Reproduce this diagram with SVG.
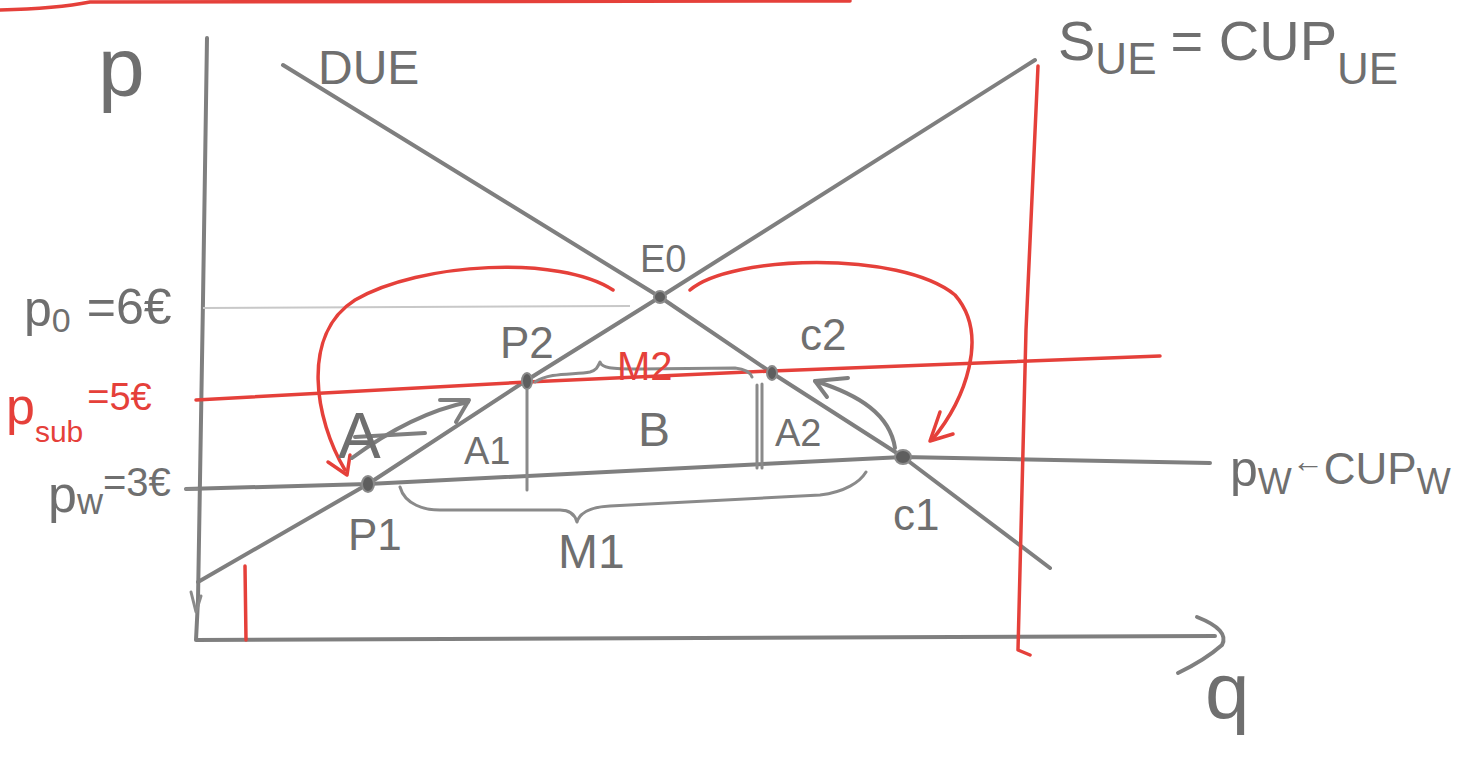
<svg xmlns="http://www.w3.org/2000/svg" width="1459" height="760" viewBox="0 0 1459 760">
<style>
.g{fill:none;stroke:#7f7f7f;stroke-width:4;stroke-linecap:round;stroke-linejoin:round}
.gt{fill:none;stroke:#8a8a8a;stroke-width:3;stroke-linecap:round;stroke-linejoin:round}
.gf{fill:none;stroke:#c8c8c8;stroke-width:2}
.r{fill:none;stroke:#e5403a;stroke-width:3.5;stroke-linecap:round;stroke-linejoin:round}
.t{font-family:"Liberation Sans",Arial,sans-serif;fill:#6f6f6f}
.tr{font-family:"Liberation Sans",Arial,sans-serif;fill:#e5403a}
.dot{fill:#5e5e5e;stroke:#8a8a8a;stroke-width:2}
</style>
<rect width="1459" height="760" fill="#ffffff"/>
<g id="connectors">
  <path class="r" d="M0,10 C40,9 70,6 90,2 L850,1"/>
  <path class="g" d="M207,38 L203,300 L198,600 L196,640 L1215,636"/>
  <path class="g" d="M1197,617 Q1230,630 1222,645 Q1205,660 1178,673"/>
  <path class="gt" d="M191,592 L196,612 L201,596"/>
  <path class="gf" d="M203,308 L630,306"/>
  <path class="g" d="M198,582 L368,484 L527,380 L660,297 L1035,60"/>
  <path class="g" d="M283,65 L660,297 L772,373 L903,457 L1050,568"/>
  <path class="g" d="M186,489 L368,484 L903,457 L1210,463"/>
  <path class="r" d="M196,400 L527,382 L772,371 L1160,356"/>
  <path class="gt" d="M527,382 L527,490"/>
  <path class="gt" d="M757,385 L757,468"/>
  <path class="gt" d="M762,384 L762,468"/>
  <path class="r" d="M245,566 L246,640"/>
  <path class="r" d="M1038,66 L1026,330 L1018,650 L1030,655"/>
  <path class="r" d="M613,290 C560,255 420,262 355,300 C300,335 315,420 345,470"/>
  <path class="r" d="M328,462 L347,475 L350,455"/>
  <path class="r" d="M690,290 C730,255 900,250 955,295 C990,335 965,400 932,440"/>
  <path class="r" d="M940,412 L930,441 L953,434"/>
  <path class="g" d="M352,458 C390,430 430,410 468,402"/>
  <path class="g" d="M440,400 L469,400 L456,422"/>
  <path class="g" d="M895,448 C890,415 860,395 815,381"/>
  <path class="g" d="M815,381 L848,378 M815,381 L827,397"/>
  <path class="g" d="M355,437 L425,433"/>
  <path class="gt" d="M400,487 C405,505 425,510 440,510 L560,510 C570,510 575,515 577,522 C580,512 590,507 610,506 L820,495 C845,492 860,482 866,472"/>
  <path class="gt" d="M535,382 C550,372 575,375 590,372 C597,370 598,366 600,362 C602,368 610,369 640,369 L735,368 C745,369 750,372 752,377"/>
  <path class="gt" d="M186,489 L197,489"/>
</g>
<g id="P1"><ellipse class="dot" cx="368" cy="484" rx="6" ry="8"/><text class="t" x="348" y="550" font-size="44">P1</text></g>
<g id="P2"><ellipse class="dot" cx="527" cy="381" rx="5" ry="8"/><text class="t" x="500" y="358" font-size="44">P2</text></g>
<g id="E0"><ellipse class="dot" cx="660" cy="297" rx="6" ry="6"/><text class="t" x="640" y="272" font-size="38">E0</text></g>
<g id="C2"><ellipse class="dot" cx="772" cy="373" rx="5" ry="7"/><text class="t" x="800" y="350" font-size="44">c2</text></g>
<g id="C1"><ellipse class="dot" cx="903" cy="457" rx="8" ry="7"/><text class="t" x="893" y="530" font-size="44">c1</text></g>
<g id="labels">
  <text class="t" x="98" y="96" font-size="84">p</text>
  <text class="t" x="318" y="84" font-size="48">DUE</text>
  <text class="t" x="1058" y="60" font-size="56">S<tspan font-size="44" dy="14">UE</tspan><tspan font-size="56" dy="-14" dx="14">= CUP</tspan><tspan font-size="44" dy="24">UE</tspan></text>
  <text class="t" x="24" y="326" font-size="50">p<tspan font-size="34" dy="6">0</tspan><tspan font-size="50" dy="-8" dx="16">=6€</tspan></text>
  <text class="tr" x="6" y="424" font-size="52">p<tspan font-size="30" dy="18">sub</tspan><tspan font-size="38" dy="-32" dx="4">=5€</tspan></text>
  <text class="t" x="48" y="512" font-size="52">p<tspan font-size="36" dy="2">w</tspan><tspan font-size="40" dy="-18">=3€</tspan></text>
  <text class="tr" x="617" y="380" font-size="40">M2</text>
  <text class="t" x="338" y="458" font-size="64">A</text>
  <text class="t" x="464" y="464" font-size="38">A1</text>
  <text class="t" x="638" y="446" font-size="48">B</text>
  <text class="t" x="775" y="446" font-size="38">A2</text>
  <text class="t" x="558" y="568" font-size="48">M1</text>
  <text class="t" x="1230" y="486" font-size="50">p<tspan font-size="36" dy="8">W</tspan><tspan font-size="32" dy="-22">←</tspan><tspan font-size="44" dy="12">CUP</tspan><tspan font-size="36" dy="10">W</tspan></text>
  <text class="t" x="1205" y="718" font-size="80">q</text>
</g>
</svg>
